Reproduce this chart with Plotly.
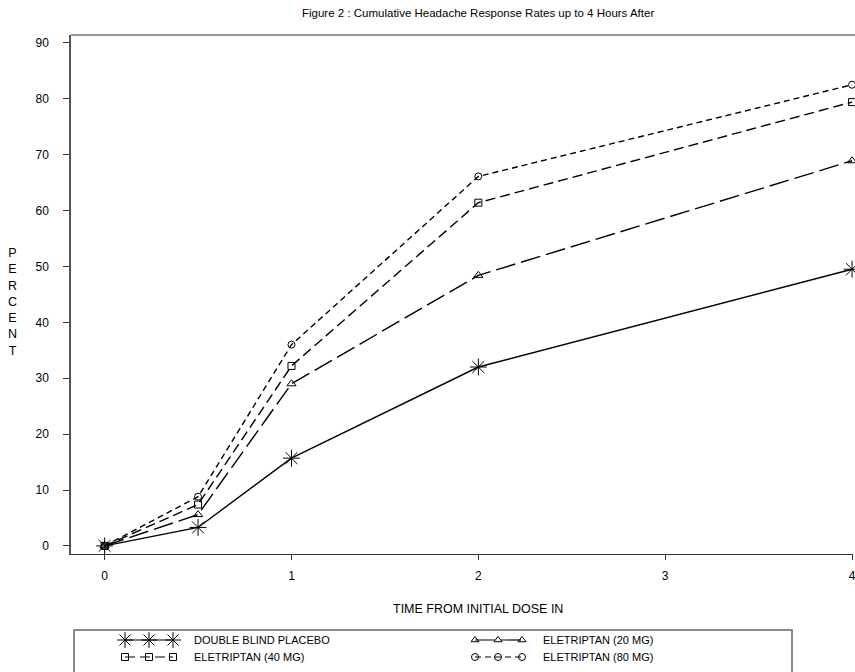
import plotly.graph_objects as go

# ---- data ----
hours = [0, 0.5, 1, 2, 4]
placebo = [0, 3.3, 15.7, 32.0, 49.5]
ele20 = [0, 5.6, 29.0, 48.4, 68.9]
ele40 = [0, 7.4, 32.2, 61.4, 79.4]
ele80 = [0, 8.8, 36.0, 66.1, 82.5]
y_ticks = [0, 10, 20, 30, 40, 50, 60, 70, 80, 90]
x_ticks = [0, 1, 2, 3, 4]

series = [
    ("DOUBLE BLIND PLACEBO", placebo, "solid", "asterisk-open", 14),
    ("ELETRIPTAN (20 MG)", ele20, "20px,6px", "triangle-up-open", 8),
    ("ELETRIPTAN (40 MG)", ele40, "10px,5px", "square-open", 7),
    ("ELETRIPTAN (80 MG)", ele80, "6px,4px", "circle-open", 7),
]

W, H = 855, 672
L, R, T, B = 71, 853, 35, 554
LEG_TOP = 630
FONT = "Liberation Sans, Arial, sans-serif"

fig = go.Figure()
for name, vals, dash, sym, size in series:
    fig.add_trace(go.Scatter(
        x=hours, y=vals, mode="lines+markers", name=name,
        line=dict(color="black", width=1.4, dash=dash),
        marker=dict(symbol=sym, size=size, color="black", line=dict(width=1, color="black")),
        showlegend=False, cliponaxis=False,
    ))

# legend samples on a pixel-coordinate subplot covering only the legend band
leg_x = [[125, 149, 173], [475, 498, 522]]
leg_y = [640, 657]
leg_items = [(0, 0, 0), (1, 0, 1), (2, 1, 0), (3, 1, 1)]
for idx, row, col in leg_items:
    name, vals, dash, sym, size = series[idx]
    xs = leg_x[col]
    fig.add_trace(go.Scatter(
        x=xs, y=[leg_y[row]] * 3, mode="lines+markers", xaxis="x2", yaxis="y2",
        line=dict(color="black", width=1.2, dash=dash),
        marker=dict(symbol=sym, size=max(size - 1, 7), color="black", line=dict(width=1, color="black")),
        showlegend=False, hoverinfo="skip", cliponaxis=False,
    ))
    fig.add_annotation(x=xs[-1] + 19, y=leg_y[row], xref="x2", yref="y2", text=name,
                       showarrow=False, xanchor="left", yanchor="middle",
                       font=dict(family=FONT, size=11, color="black"))

fig.update_layout(
    width=W, height=H,
    margin=dict(l=0, r=0, t=0, b=0),
    paper_bgcolor="white", plot_bgcolor="rgba(0,0,0,0)",
    font=dict(family=FONT, size=12, color="black"),
    xaxis=dict(domain=[L / W, R / W], range=[-0.18, 4.005], tickvals=x_ticks,
               ticks="outside", ticklen=5, tickcolor="#333", showgrid=False, zeroline=False,
               showline=True, linecolor="#333", linewidth=1, anchor="y",
               ticklabelstandoff=6, ticklabeloverflow="allow", automargin=False,
               tickfont=dict(size=12)),
    yaxis=dict(domain=[(H - B) / H, (H - T) / H], range=[-1.45, 91.4], tickvals=y_ticks,
               ticks="outside", ticklen=6, tickcolor="#333", showgrid=False, zeroline=False,
               showline=True, linecolor="#555", linewidth=1.5, anchor="x",
               ticklabelstandoff=12, automargin=False,
               tickfont=dict(size=12)),
    xaxis2=dict(domain=[0, 1], range=[0, W], visible=False, anchor="y2", automargin=False),
    yaxis2=dict(domain=[0, (H - LEG_TOP) / H], range=[H, LEG_TOP], visible=False, anchor="x2",
                automargin=False),
    shapes=[
        dict(type="line", xref="paper", yref="paper", x0=L / W, x1=1, y0=(H - T) / H, y1=(H - T) / H,
             line=dict(color="#777", width=1.5)),
        dict(type="rect", xref="paper", yref="paper", x0=74 / W, x1=792 / W, y0=-0.01, y1=(H - LEG_TOP) / H,
             line=dict(color="#666", width=1.5)),
    ],
)

fig.add_annotation(x=478 / W, y=(H - 13) / H, xref="paper", yref="paper", showarrow=False,
                   text="Figure 2 : Cumulative Headache Response Rates up to 4 Hours After",
                   font=dict(family=FONT, size=11.5, color="black"), xanchor="center", yanchor="middle")
fig.add_annotation(x=478 / W, y=(H - 609) / H, xref="paper", yref="paper", showarrow=False,
                   text="TIME FROM INITIAL DOSE IN",
                   font=dict(family=FONT, size=12.5, color="black"), xanchor="center", yanchor="middle")
fig.add_annotation(x=12 / W, y=(H - 302) / H, xref="paper", yref="paper", showarrow=False,
                   text="P<br>E<br>R<br>C<br>E<br>N<br>T",
                   font=dict(family=FONT, size=12.5, color="black"), xanchor="center", yanchor="middle")

fig.write_html("out.html", config={"displayModeBar": False},
               post_script="document.body.style.margin='0';document.body.style.padding='0';")
